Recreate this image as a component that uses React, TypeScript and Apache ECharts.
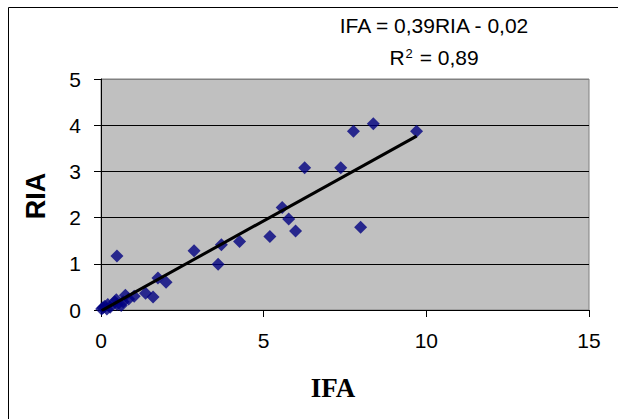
import React, { useEffect, useRef } from "react";
import * as echarts from "echarts";

const ifaValues = [0.02, 0.06, 0.12, 0.18, 0.21, 0.28, 0.42, 0.47, 0.5, 0.62, 0.68, 0.75, 0.85, 1.02, 1.37, 1.6, 1.75, 2.0, 0.49, 2.86, 3.7, 3.6, 4.26, 5.19, 5.57, 5.77, 5.98, 6.26, 7.37, 7.76, 8.37, 9.7, 7.98];
const riaValues = [0.02, 0.05, 0.08, 0.02, 0.12, 0.06, 0.18, 0.22, 0.12, 0.1, 0.18, 0.32, 0.24, 0.3, 0.36, 0.28, 0.69, 0.6, 1.17, 1.28, 1.41, 0.99, 1.48, 1.59, 2.22, 1.97, 1.71, 3.08, 3.08, 3.87, 4.03, 3.87, 1.79];
const trendSlope = 0.39;
const trendIntercept = -0.02;
const xTicks = { min: 0, max: 15, interval: 5 };
const yTicks = { min: 0, max: 5, interval: 1 };
const equationText = "IFA = 0,39RIA - 0,02";
const r2Value = "0,89";

export default function App() {
  const ref = useRef<HTMLDivElement>(null);
  useEffect(() => {
    if (!ref.current) return;
    const chart = echarts.init(ref.current, null, { renderer: "svg" });
    const points = ifaValues.map((x, i) => [x, riaValues[i]]);
    const xMin = Math.min(...ifaValues);
    const xMax = Math.max(...ifaValues);
    const trend = [
      [xMin, trendSlope * xMin + trendIntercept],
      [xMax, trendSlope * xMax + trendIntercept],
    ];
    const sans = "'Liberation Sans', Arial, sans-serif";
    chart.setOption({
      animation: false,
      backgroundColor: "#ffffff",
      grid: {
        left: 101,
        right: 29,
        top: 79,
        bottom: 109,
        show: true,
        backgroundColor: "#C0C0C0",
        borderColor: "#808080",
        borderWidth: 1,
      },
      xAxis: {
        type: "value",
        min: xTicks.min,
        max: xTicks.max,
        interval: xTicks.interval,
        axisLine: { show: true, onZero: false, lineStyle: { color: "#000", width: 1 } },
        axisTick: { show: true, inside: false, length: 7, lineStyle: { color: "#000" } },
        axisLabel: { margin: 20, color: "#000", fontSize: 21, fontFamily: sans },
        splitLine: { show: false },
      },
      yAxis: {
        type: "value",
        min: yTicks.min,
        max: yTicks.max,
        interval: yTicks.interval,
        axisLine: { show: true, onZero: false, lineStyle: { color: "#000", width: 1 } },
        axisTick: { show: true, inside: false, length: 7, lineStyle: { color: "#000" } },
        axisLabel: { margin: 20, color: "#000", fontSize: 21, fontFamily: sans },
        splitLine: {
          show: true,
          lineStyle: { color: ["#000", "#000", "#000", "#000", "#000", "#808080"], width: 1 },
        },
      },
      series: [
        {
          type: "scatter",
          data: points,
          symbol: "diamond",
          symbolSize: [13, 13],
          itemStyle: { color: "#000080" },
          z: 2,
        },
        {
          type: "line",
          data: trend,
          showSymbol: false,
          symbol: "none",
          lineStyle: { color: "#000", width: 3 },
          z: 3,
        },
      ],
      graphic: [
        {
          type: "rect",
          shape: { x: 8.5, y: 7.5, width: 700, height: 500 },
          style: { fill: "none", stroke: "#000", lineWidth: 1 },
          silent: true,
        },
        {
          type: "text",
          x: 434,
          y: 25,
          style: {
            text: equationText,
            fontSize: 21,
            fontFamily: sans,
            fill: "#000",
            align: "center",
            verticalAlign: "middle",
          },
        },
        {
          type: "text",
          x: 434,
          y: 57,
          style: {
            text: "R{sup|2} = " + r2Value,
            fontSize: 21,
            fontFamily: sans,
            fill: "#000",
            align: "center",
            verticalAlign: "middle",
            rich: {
              sup: { fontSize: 13, fontFamily: sans, fill: "#000", verticalAlign: "top", padding: [0, 1, 8, 1] },
            },
          },
        },
        {
          type: "text",
          x: 36,
          y: 196,
          rotation: Math.PI / 2,
          style: {
            text: "RIA",
            fontSize: 27,
            fontWeight: "bold",
            fontFamily: sans,
            fill: "#000",
            align: "center",
            verticalAlign: "middle",
          },
        },
        {
          type: "text",
          x: 333,
          y: 388,
          style: {
            text: "IFA",
            fontSize: 27,
            fontWeight: "bold",
            fontFamily: "'Liberation Serif', 'Times New Roman', serif",
            fill: "#000",
            align: "center",
            verticalAlign: "middle",
          },
        },
      ],
    });
    return () => chart.dispose();
  }, []);
  return (
    <div
      ref={ref}
      style={{ position: "fixed", left: 0, top: 0, width: 618, height: 419 }}
    />
  );
}
